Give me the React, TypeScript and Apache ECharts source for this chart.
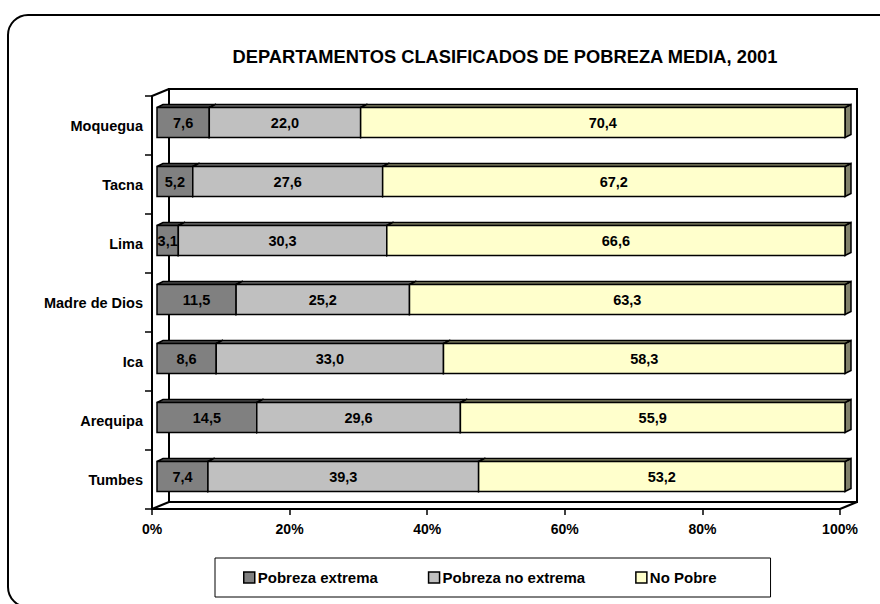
import React, { useEffect, useRef } from "react";
import * as echarts from "echarts";

const categories = ["Moquegua", "Tacna", "Lima", "Madre de Dios", "Ica", "Arequipa", "Tumbes"];
const pobrezaExtrema = [7.6, 5.2, 3.1, 11.5, 8.6, 14.5, 7.4];
const pobrezaNoExtrema = [22.0, 27.6, 30.3, 25.2, 33.0, 29.6, 39.3];
const noPobre = [70.4, 67.2, 66.6, 63.3, 58.3, 55.9, 53.2];
const seriesNames = ["Pobreza extrema", "Pobreza no extrema", "No Pobre"];
const xTicks = [0, 20, 40, 60, 80, 100];
const title = "DEPARTAMENTOS CLASIFICADOS DE POBREZA MEDIA, 2001";

const FONT = "'Liberation Sans', Arial, sans-serif";

// layout (front plane of the 3D plot)
const W = 880, H = 604;
const FL = 152, FR = 840, FT = 96, FB = 509;
const DX = 17, DY = -7; // wall depth
const BDX = 5, BDY = -3; // bar plane offset
const SDX = 6, SDY = -3; // bar depth

const faceColors = ["#808080", "#C0C0C0", "#FFFFCC"];
const topColors = ["#505050", "#7a7a7a", "#8a8a6a"];
const sideColors = ["#404040", "#606060", "#80806a"];

export default function App() {
  const ref = useRef<HTMLDivElement>(null);
  useEffect(() => {
    document.body.style.margin = "0";
    const chart = echarts.init(ref.current!, null, { renderer: "svg" });
    const all = [pobrezaExtrema, pobrezaNoExtrema, noPobre];
    const totals = categories.map((_, i) => all.reduce((s, a) => s + a[i], 0));
    const seriesData = all.map((arr, k) =>
      categories.map((_, i) => {
        let start = 0;
        for (let j = 0; j < k; j++) start += (all[j][i] / totals[i]) * 100;
        const end = start + (arr[i] / totals[i]) * 100;
        return [start, end, i, arr[i]];
      })
    );
    const fmt = (v: number) => v.toFixed(1).replace(".", ",");

    const makeRender = (k: number) => (params: any, api: any) => {
      const s = api.coord([api.value(0), api.value(2)]);
      const e = api.coord([api.value(1), api.value(2)]);
      const band = api.size([0, 1])[1];
      const h = band * 0.51;
      const x0 = s[0] + BDX;
      const x1 = e[0] + BDX;
      const yc = s[1] + BDY;
      const yt = yc - h / 2;
      const yb = yc + h / 2;
      const stroke = { stroke: "#000", lineWidth: 1.5 };
      return {
        type: "group",
        children: [
          {
            type: "polygon",
            shape: { points: [[x1, yt], [x1 + SDX, yt + SDY], [x1 + SDX, yb + SDY], [x1, yb]] },
            style: { fill: sideColors[k], ...stroke },
          },
          {
            type: "polygon",
            shape: { points: [[x0, yt], [x1, yt], [x1 + SDX, yt + SDY], [x0 + SDX, yt + SDY]] },
            style: { fill: topColors[k], ...stroke },
          },
          {
            type: "rect",
            shape: { x: x0, y: yt, width: x1 - x0, height: yb - yt },
            style: { fill: faceColors[k], ...stroke },
          },
          {
            type: "text",
            style: {
              text: fmt(api.value(3)),
              x: (x0 + x1) / 2,
              y: yc,
              align: "center",
              verticalAlign: "middle",
              fontFamily: FONT,
              fontWeight: "bold",
              fontSize: 14.5,
              fill: "#000",
            },
          },
        ],
      };
    };

    const line = (pts: number[][]) => ({
      type: "polyline",
      shape: { points: pts },
      style: { stroke: "#000", lineWidth: 2, fill: null },
      z: 1,
      silent: true,
    });

    chart.setOption({
      animation: false,
      backgroundColor: "#fff",
      title: {
        text: title,
        left: 500,
        textAlign: "center",
        top: 42,
        textStyle: { fontFamily: FONT, fontWeight: "bold", fontSize: 18.3, color: "#000" },
      },
      grid: { left: FL, right: W - FR, top: FT, bottom: H - FB, containLabel: false },
      xAxis: {
        type: "value",
        min: xTicks[0],
        max: xTicks[xTicks.length - 1],
        interval: 20,
        axisLine: { show: true, lineStyle: { color: "#000", width: 2 } },
        axisTick: { show: true, length: 6, lineStyle: { color: "#000", width: 1.5 } },
        splitLine: { show: false },
        axisLabel: {
          formatter: "{value}%",
          margin: 13,
          fontFamily: FONT,
          fontWeight: "bold",
          fontSize: 14,
          color: "#000",
        },
      },
      yAxis: {
        type: "category",
        data: categories,
        inverse: true,
        axisLine: { show: true, lineStyle: { color: "#000", width: 2 } },
        axisTick: { show: true, length: 7, lineStyle: { color: "#000", width: 1.5 } },
        axisLabel: {
          margin: 9,
          fontFamily: FONT,
          fontWeight: "bold",
          fontSize: 14.5,
          color: "#000",
        },
      },
      legend: {
        left: 215,
        top: 558,
        orient: "horizontal",
        data: seriesNames,
        icon: "rect",
        itemWidth: 11,
        itemHeight: 11,
        itemGap: 50,
        padding: [12, 54, 12, 28],
        borderColor: "#000",
        borderWidth: 1,
        itemStyle: { borderColor: "#000", borderWidth: 1.5 },
        textStyle: { fontFamily: FONT, fontWeight: "bold", fontSize: 15, color: "#000", padding: [0, 0, 0, -2] },
      },
      graphic: [
        {
          type: "rect",
          shape: { x: 8, y: 15, width: 895, height: 592, r: 20 },
          style: { fill: null, stroke: "#000", lineWidth: 2 },
          silent: true,
          z: 0,
        },
        {
          type: "rect",
          shape: { x: FL + DX, y: FT + DY, width: FR - FL, height: FB - FT },
          style: { fill: "#fff", stroke: "#000", lineWidth: 2 },
          silent: true,
          z: 0,
        },
        line([[FL, FT], [FL + DX, FT + DY]]),
        line([[FL, FB], [FL + DX, FB + DY]]),
        line([[FR, FB], [FR + DX, FB + DY]]),
      ],
      series: seriesNames.map((name, k) => ({
        type: "custom",
        name,
        renderItem: makeRender(k),
        encode: { x: [0, 1], y: 2 },
        data: seriesData[k],
        itemStyle: { color: faceColors[k], borderColor: "#000", borderWidth: 1.5 },
        z: 3,
      })),
    });
    return () => chart.dispose();
  }, []);
  return <div ref={ref} style={{ width: W, height: H, position: "absolute", left: 0, top: 0 }} />;
}
